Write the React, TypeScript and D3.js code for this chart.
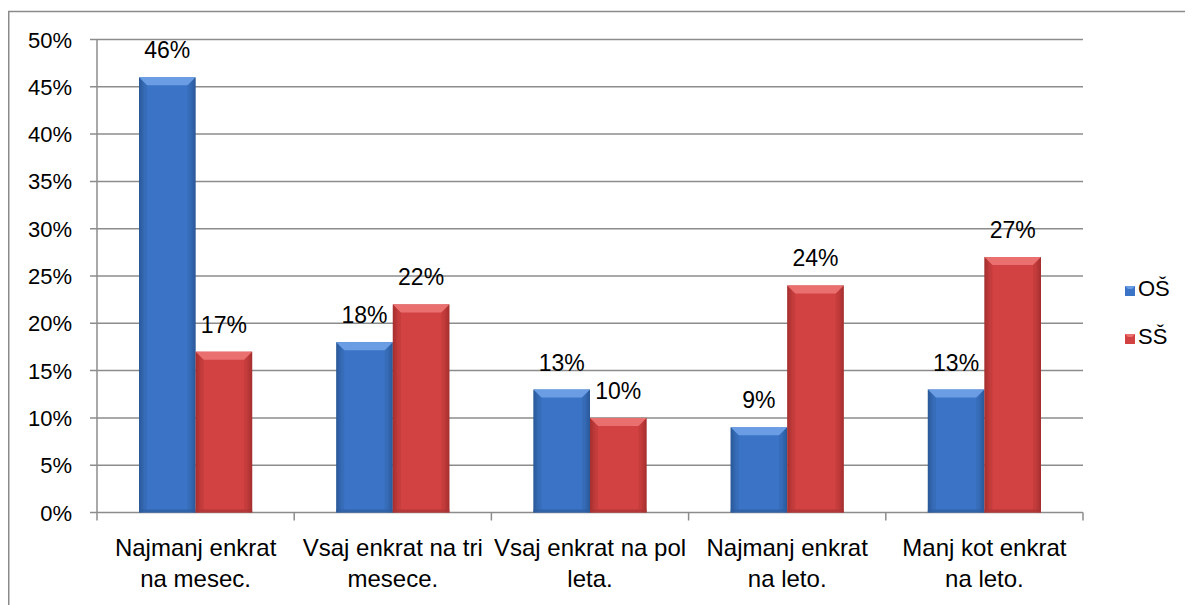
import React from 'react';
import * as d3 from 'd3';

const categories = [
  ['Najmanj enkrat', 'na mesec.'],
  ['Vsaj enkrat na tri', 'mesece.'],
  ['Vsaj enkrat na pol', 'leta.'],
  ['Najmanj enkrat', 'na leto.'],
  ['Manj kot enkrat', 'na leto.'],
];
const seriesNames = ['OŠ', 'SŠ'];
const osValues = [46, 18, 13, 9, 13];
const ssValues = [17, 22, 10, 24, 27];
const yTicks = [0, 5, 10, 15, 20, 25, 30, 35, 40, 45, 50];

const palettes = [
  { mid: '#3b74c6', dark: '#2a5898', light: '#6a9de4', bottom: '#2d5c9c' },
  { mid: '#d24242', dark: '#a52f2f', light: '#ea7070', bottom: '#a83535' },
];

const W = 1185;
const H = 597;
const FONT = '"Liberation Sans", Arial, sans-serif';

export default function App() {
  const x0 = d3.scaleBand<number>()
    .domain(d3.range(categories.length))
    .range([89, 1075])
    .paddingInner(0.426)
    .paddingOuter(0.213);
  const x1 = d3.scaleBand<number>()
    .domain([0, 1])
    .range([0, x0.bandwidth()]);
  const y = d3.scaleLinear().domain([0, 50]).range([504.5, 31.5]);

  const step = x0.step();
  const boundaries = d3.range(categories.length + 1).map(i => 89 + i * step);
  const series = [osValues, ssValues];
  const bev = 8;

  return (
    <svg width={W} height={H} style={{ display: 'block', fontFamily: FONT }}>
      <defs>
        {palettes.map((p, i) => (
          <linearGradient key={i} id={`g${i}`} x1="0" x2="1" y1="0" y2="0">
            <stop offset="0" stopColor={p.dark} />
            <stop offset="0.1" stopColor={p.mid} />
            <stop offset="0.9" stopColor={p.mid} />
            <stop offset="1" stopColor={p.dark} />
          </linearGradient>
        ))}
      </defs>
      <rect x={0.75} y={3.5} width={W + 20} height={H + 20} fill="#fff" stroke="#8a8a8a" strokeWidth={1.5} />

      {/* gridlines */}
      {yTicks.map(t => (
        <line key={t} x1={82} x2={1075} y1={y(t)} y2={y(t)} stroke="#8c8c8c" strokeWidth={1.5} />
      ))}
      <line x1={89} x2={89} y1={y(50)} y2={y(0)} stroke="#8c8c8c" strokeWidth={1.5} />
      {boundaries.map((b, i) => (
        <line key={i} x1={b} x2={b} y1={y(0)} y2={y(0) + 8} stroke="#8c8c8c" strokeWidth={1.5} />
      ))}

      {/* y tick labels */}
      {yTicks.map(t => (
        <text key={t} x={64} y={y(t) + 8} textAnchor="end" fontSize={22} fill="#000">{`${t}%`}</text>
      ))}

      {/* bars */}
      {categories.map((c, ci) => (
        <g key={ci} transform={`translate(${x0(ci)},0)`}>
          {series.map((vals, si) => {
            const p = palettes[si];
            const bx = x1(si)!;
            const bw = x1.bandwidth();
            const top = y(vals[ci]);
            const bot = y(0);
            return (
              <g key={si}>
                <rect x={bx} y={top} width={bw} height={bot - top} fill={`url(#g${si})`} />
                <polygon points={`${bx},${top} ${bx + bw},${top} ${bx + bw - bev},${top + bev} ${bx + bev},${top + bev}`} fill={p.light} />
                <polygon points={`${bx},${top} ${bx + bev},${top + bev} ${bx + bev},${bot - 3} ${bx},${bot}`} fill={p.dark} opacity={0.3} />
                <polygon points={`${bx + bw},${top} ${bx + bw - bev},${top + bev} ${bx + bw - bev},${bot - 3} ${bx + bw},${bot}`} fill={p.dark} opacity={0.3} />
                <rect x={bx} y={bot - 3} width={bw} height={3} fill={p.bottom} opacity={0.7} />
                <text x={bx + bw / 2} y={top - 19} textAnchor="middle" fontSize={23} fill="#000">{`${vals[ci]}%`}</text>
              </g>
            );
          })}
        </g>
      ))}

      {/* category labels */}
      {categories.map((c, ci) => (
        <text key={ci} textAnchor="middle" fontSize={24} fill="#000">
          {c.map((line, li) => (
            <tspan key={li} x={x0(ci)! + x0.bandwidth() / 2} y={548 + li * 31}>{line}</tspan>
          ))}
        </text>
      ))}

      {/* legend */}
      {seriesNames.map((n, i) => (
        <g key={n} transform={`translate(1117,${278 + i * 48})`}>
          <rect x={0} y={0} width={10} height={10} fill={palettes[i].mid} />
          <polygon points="0,0 10,0 7,3 3,3" fill={palettes[i].light} />
          <text x={13} y={10} fontSize={22} fill="#000">{n}</text>
        </g>
      ))}
    </svg>
  );
}
